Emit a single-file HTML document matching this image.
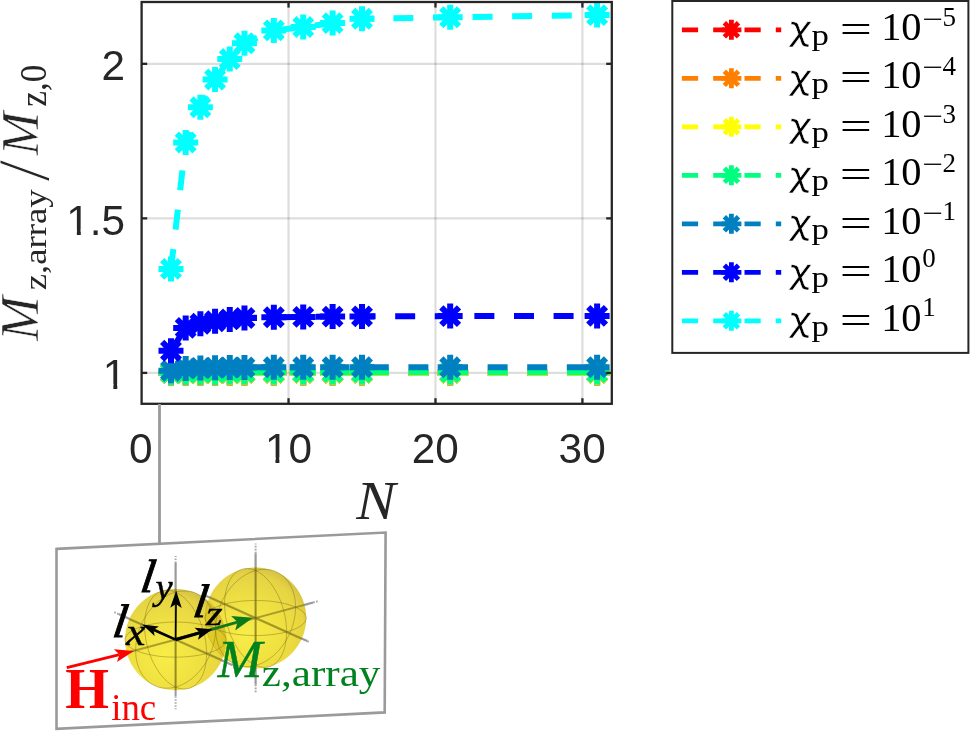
<!DOCTYPE html>
<html><head><meta charset="utf-8"><title>Magnetization ratio plot</title>
<style>html,body{margin:0;padding:0;background:#fff}svg{display:block}</style></head>
<body>
<svg width="970" height="731" viewBox="0 0 970 731">
<rect width="970" height="731" fill="#fff"/>
<g stroke="#000" stroke-opacity="0.135" stroke-width="2.2"><line x1="288.54" y1="2.0" x2="288.54" y2="403.8"/><line x1="435.47" y1="2.0" x2="435.47" y2="403.8"/><line x1="582.41" y1="2.0" x2="582.41" y2="403.8"/><line x1="141.6" y1="372.89" x2="611.8" y2="372.89"/><line x1="141.6" y1="218.35" x2="611.8" y2="218.35"/><line x1="141.6" y1="63.82" x2="611.8" y2="63.82"/></g>
<polyline points="170.99,372.89 185.68,372.89 200.38,372.89 215.07,372.89 229.76,372.89 244.46,372.89 273.84,372.89 303.23,372.89 332.62,372.89 362.01,372.89 450.17,372.89 597.11,372.89" fill="none" stroke="#ff0000" stroke-width="6" stroke-dasharray="20 19.6"/>
<path d="M158.49 372.89H183.49M170.99 360.39V385.39M162.15 364.05L179.83 381.73M162.15 381.73L179.83 364.05" stroke="#ff0000" stroke-width="6" fill="none"/>
<path d="M173.18 372.89H198.18M185.68 360.39V385.39M176.84 364.05L194.52 381.73M176.84 381.73L194.52 364.05" stroke="#ff0000" stroke-width="6" fill="none"/>
<path d="M187.88 372.89H212.88M200.38 360.39V385.39M191.54 364.05L209.21 381.73M191.54 381.73L209.21 364.05" stroke="#ff0000" stroke-width="6" fill="none"/>
<path d="M202.57 372.89H227.57M215.07 360.39V385.39M206.23 364.05L223.91 381.73M206.23 381.73L223.91 364.05" stroke="#ff0000" stroke-width="6" fill="none"/>
<path d="M217.26 372.89H242.26M229.76 360.39V385.39M220.92 364.05L238.60 381.73M220.92 381.73L238.60 364.05" stroke="#ff0000" stroke-width="6" fill="none"/>
<path d="M231.96 372.89H256.96M244.46 360.39V385.39M235.62 364.05L253.30 381.73M235.62 381.73L253.30 364.05" stroke="#ff0000" stroke-width="6" fill="none"/>
<path d="M261.34 372.89H286.34M273.84 360.39V385.39M265.00 364.05L282.68 381.73M265.00 381.73L282.68 364.05" stroke="#ff0000" stroke-width="6" fill="none"/>
<path d="M290.73 372.89H315.73M303.23 360.39V385.39M294.39 364.05L312.07 381.73M294.39 381.73L312.07 364.05" stroke="#ff0000" stroke-width="6" fill="none"/>
<path d="M320.12 372.89H345.12M332.62 360.39V385.39M323.78 364.05L341.46 381.73M323.78 381.73L341.46 364.05" stroke="#ff0000" stroke-width="6" fill="none"/>
<path d="M349.51 372.89H374.51M362.01 360.39V385.39M353.17 364.05L370.85 381.73M353.17 381.73L370.85 364.05" stroke="#ff0000" stroke-width="6" fill="none"/>
<path d="M437.67 372.89H462.67M450.17 360.39V385.39M441.33 364.05L459.01 381.73M441.33 381.73L459.01 364.05" stroke="#ff0000" stroke-width="6" fill="none"/>
<path d="M584.61 372.89H609.61M597.11 360.39V385.39M588.27 364.05L605.95 381.73M588.27 381.73L605.95 364.05" stroke="#ff0000" stroke-width="6" fill="none"/>
<polyline points="170.99,372.89 185.68,372.89 200.38,372.89 215.07,372.89 229.76,372.89 244.46,372.89 273.84,372.89 303.23,372.89 332.62,372.89 362.01,372.89 450.17,372.89 597.11,372.89" fill="none" stroke="#ff8000" stroke-width="6" stroke-dasharray="20 19.6"/>
<path d="M158.49 372.89H183.49M170.99 360.39V385.39M162.15 364.05L179.83 381.73M162.15 381.73L179.83 364.05" stroke="#ff8000" stroke-width="6" fill="none"/>
<path d="M173.18 372.89H198.18M185.68 360.39V385.39M176.84 364.05L194.52 381.73M176.84 381.73L194.52 364.05" stroke="#ff8000" stroke-width="6" fill="none"/>
<path d="M187.88 372.89H212.88M200.38 360.39V385.39M191.54 364.05L209.21 381.73M191.54 381.73L209.21 364.05" stroke="#ff8000" stroke-width="6" fill="none"/>
<path d="M202.57 372.89H227.57M215.07 360.39V385.39M206.23 364.05L223.91 381.73M206.23 381.73L223.91 364.05" stroke="#ff8000" stroke-width="6" fill="none"/>
<path d="M217.26 372.89H242.26M229.76 360.39V385.39M220.92 364.05L238.60 381.73M220.92 381.73L238.60 364.05" stroke="#ff8000" stroke-width="6" fill="none"/>
<path d="M231.96 372.89H256.96M244.46 360.39V385.39M235.62 364.05L253.30 381.73M235.62 381.73L253.30 364.05" stroke="#ff8000" stroke-width="6" fill="none"/>
<path d="M261.34 372.89H286.34M273.84 360.39V385.39M265.00 364.05L282.68 381.73M265.00 381.73L282.68 364.05" stroke="#ff8000" stroke-width="6" fill="none"/>
<path d="M290.73 372.89H315.73M303.23 360.39V385.39M294.39 364.05L312.07 381.73M294.39 381.73L312.07 364.05" stroke="#ff8000" stroke-width="6" fill="none"/>
<path d="M320.12 372.89H345.12M332.62 360.39V385.39M323.78 364.05L341.46 381.73M323.78 381.73L341.46 364.05" stroke="#ff8000" stroke-width="6" fill="none"/>
<path d="M349.51 372.89H374.51M362.01 360.39V385.39M353.17 364.05L370.85 381.73M353.17 381.73L370.85 364.05" stroke="#ff8000" stroke-width="6" fill="none"/>
<path d="M437.67 372.89H462.67M450.17 360.39V385.39M441.33 364.05L459.01 381.73M441.33 381.73L459.01 364.05" stroke="#ff8000" stroke-width="6" fill="none"/>
<path d="M584.61 372.89H609.61M597.11 360.39V385.39M588.27 364.05L605.95 381.73M588.27 381.73L605.95 364.05" stroke="#ff8000" stroke-width="6" fill="none"/>
<polyline points="170.99,372.87 185.68,372.85 200.38,372.84 215.07,372.84 229.76,372.84 244.46,372.84 273.84,372.84 303.23,372.84 332.62,372.84 362.01,372.84 450.17,372.84 597.11,372.84" fill="none" stroke="#ffff00" stroke-width="6" stroke-dasharray="20 19.6"/>
<path d="M158.49 372.87H183.49M170.99 360.37V385.37M162.15 364.03L179.83 381.71M162.15 381.71L179.83 364.03" stroke="#ffff00" stroke-width="6" fill="none"/>
<path d="M173.18 372.85H198.18M185.68 360.35V385.35M176.84 364.01L194.52 381.69M176.84 381.69L194.52 364.01" stroke="#ffff00" stroke-width="6" fill="none"/>
<path d="M187.88 372.84H212.88M200.38 360.34V385.34M191.54 364.00L209.21 381.68M191.54 381.68L209.21 364.00" stroke="#ffff00" stroke-width="6" fill="none"/>
<path d="M202.57 372.84H227.57M215.07 360.34V385.34M206.23 364.00L223.91 381.68M206.23 381.68L223.91 364.00" stroke="#ffff00" stroke-width="6" fill="none"/>
<path d="M217.26 372.84H242.26M229.76 360.34V385.34M220.92 364.00L238.60 381.68M220.92 381.68L238.60 364.00" stroke="#ffff00" stroke-width="6" fill="none"/>
<path d="M231.96 372.84H256.96M244.46 360.34V385.34M235.62 364.00L253.30 381.68M235.62 381.68L253.30 364.00" stroke="#ffff00" stroke-width="6" fill="none"/>
<path d="M261.34 372.84H286.34M273.84 360.34V385.34M265.00 364.00L282.68 381.68M265.00 381.68L282.68 364.00" stroke="#ffff00" stroke-width="6" fill="none"/>
<path d="M290.73 372.84H315.73M303.23 360.34V385.34M294.39 364.00L312.07 381.68M294.39 381.68L312.07 364.00" stroke="#ffff00" stroke-width="6" fill="none"/>
<path d="M320.12 372.84H345.12M332.62 360.34V385.34M323.78 364.00L341.46 381.67M323.78 381.67L341.46 364.00" stroke="#ffff00" stroke-width="6" fill="none"/>
<path d="M349.51 372.84H374.51M362.01 360.34V385.34M353.17 364.00L370.85 381.67M353.17 381.67L370.85 364.00" stroke="#ffff00" stroke-width="6" fill="none"/>
<path d="M437.67 372.84H462.67M450.17 360.34V385.34M441.33 364.00L459.01 381.67M441.33 381.67L459.01 364.00" stroke="#ffff00" stroke-width="6" fill="none"/>
<path d="M584.61 372.84H609.61M597.11 360.34V385.34M588.27 364.00L605.95 381.67M588.27 381.67L605.95 364.00" stroke="#ffff00" stroke-width="6" fill="none"/>
<polyline points="170.99,372.67 185.68,372.44 200.38,372.40 215.07,372.38 229.76,372.36 244.46,372.34 273.84,372.34 303.23,372.33 332.62,372.33 362.01,372.33 450.17,372.32 597.11,372.32" fill="none" stroke="#00ff80" stroke-width="6" stroke-dasharray="20 19.6"/>
<path d="M158.49 372.67H183.49M170.99 360.17V385.17M162.15 363.83L179.83 381.51M162.15 381.51L179.83 363.83" stroke="#00ff80" stroke-width="6" fill="none"/>
<path d="M173.18 372.44H198.18M185.68 359.94V384.94M176.84 363.60L194.52 381.28M176.84 381.28L194.52 363.60" stroke="#00ff80" stroke-width="6" fill="none"/>
<path d="M187.88 372.40H212.88M200.38 359.90V384.90M191.54 363.56L209.21 381.24M191.54 381.24L209.21 363.56" stroke="#00ff80" stroke-width="6" fill="none"/>
<path d="M202.57 372.38H227.57M215.07 359.88V384.88M206.23 363.54L223.91 381.22M206.23 381.22L223.91 363.54" stroke="#00ff80" stroke-width="6" fill="none"/>
<path d="M217.26 372.36H242.26M229.76 359.86V384.86M220.92 363.52L238.60 381.20M220.92 381.20L238.60 363.52" stroke="#00ff80" stroke-width="6" fill="none"/>
<path d="M231.96 372.34H256.96M244.46 359.84V384.84M235.62 363.50L253.30 381.18M235.62 381.18L253.30 363.50" stroke="#00ff80" stroke-width="6" fill="none"/>
<path d="M261.34 372.34H286.34M273.84 359.84V384.84M265.00 363.50L282.68 381.17M265.00 381.17L282.68 363.50" stroke="#00ff80" stroke-width="6" fill="none"/>
<path d="M290.73 372.33H315.73M303.23 359.83V384.83M294.39 363.49L312.07 381.17M294.39 381.17L312.07 363.49" stroke="#00ff80" stroke-width="6" fill="none"/>
<path d="M320.12 372.33H345.12M332.62 359.83V384.83M323.78 363.49L341.46 381.17M323.78 381.17L341.46 363.49" stroke="#00ff80" stroke-width="6" fill="none"/>
<path d="M349.51 372.33H374.51M362.01 359.83V384.83M353.17 363.49L370.85 381.17M353.17 381.17L370.85 363.49" stroke="#00ff80" stroke-width="6" fill="none"/>
<path d="M437.67 372.32H462.67M450.17 359.82V384.82M441.33 363.49L459.01 381.16M441.33 381.16L459.01 363.49" stroke="#00ff80" stroke-width="6" fill="none"/>
<path d="M584.61 372.32H609.61M597.11 359.82V384.82M588.27 363.48L605.95 381.16M588.27 381.16L605.95 363.48" stroke="#00ff80" stroke-width="6" fill="none"/>
<polyline points="170.99,370.67 185.68,368.39 200.38,367.98 215.07,367.73 229.76,367.54 244.46,367.40 273.84,367.32 303.23,367.29 332.62,367.26 362.01,367.24 450.17,367.21 597.11,367.19" fill="none" stroke="#0080c0" stroke-width="6" stroke-dasharray="20 19.6"/>
<path d="M158.49 370.67H183.49M170.99 358.17V383.17M162.15 361.83L179.83 379.51M162.15 379.51L179.83 361.83" stroke="#0080c0" stroke-width="6" fill="none"/>
<path d="M173.18 368.39H198.18M185.68 355.89V380.89M176.84 359.55L194.52 377.23M176.84 377.23L194.52 359.55" stroke="#0080c0" stroke-width="6" fill="none"/>
<path d="M187.88 367.98H212.88M200.38 355.48V380.48M191.54 359.14L209.21 376.82M191.54 376.82L209.21 359.14" stroke="#0080c0" stroke-width="6" fill="none"/>
<path d="M202.57 367.73H227.57M215.07 355.23V380.23M206.23 358.89L223.91 376.57M206.23 376.57L223.91 358.89" stroke="#0080c0" stroke-width="6" fill="none"/>
<path d="M217.26 367.54H242.26M229.76 355.04V380.04M220.92 358.70L238.60 376.38M220.92 376.38L238.60 358.70" stroke="#0080c0" stroke-width="6" fill="none"/>
<path d="M231.96 367.40H256.96M244.46 354.90V379.90M235.62 358.56L253.30 376.24M235.62 376.24L253.30 358.56" stroke="#0080c0" stroke-width="6" fill="none"/>
<path d="M261.34 367.32H286.34M273.84 354.82V379.82M265.00 358.48L282.68 376.16M265.00 376.16L282.68 358.48" stroke="#0080c0" stroke-width="6" fill="none"/>
<path d="M290.73 367.29H315.73M303.23 354.79V379.79M294.39 358.45L312.07 376.13M294.39 376.13L312.07 358.45" stroke="#0080c0" stroke-width="6" fill="none"/>
<path d="M320.12 367.26H345.12M332.62 354.76V379.76M323.78 358.42L341.46 376.10M323.78 376.10L341.46 358.42" stroke="#0080c0" stroke-width="6" fill="none"/>
<path d="M349.51 367.24H374.51M362.01 354.74V379.74M353.17 358.40L370.85 376.08M353.17 376.08L370.85 358.40" stroke="#0080c0" stroke-width="6" fill="none"/>
<path d="M437.67 367.21H462.67M450.17 354.71V379.71M441.33 358.37L459.01 376.05M441.33 376.05L459.01 358.37" stroke="#0080c0" stroke-width="6" fill="none"/>
<path d="M584.61 367.19H609.61M597.11 354.69V379.69M588.27 358.35L605.95 376.03M588.27 376.03L605.95 358.35" stroke="#0080c0" stroke-width="6" fill="none"/>
<polyline points="170.99,350.70 185.68,327.90 200.38,323.80 215.07,321.30 229.76,319.40 244.46,318.00 273.84,317.20 303.23,316.90 332.62,316.60 362.01,316.40 450.17,316.10 597.11,315.90" fill="none" stroke="#0000ff" stroke-width="6" stroke-dasharray="20 19.6"/>
<path d="M158.49 350.70H183.49M170.99 338.20V363.20M162.15 341.86L179.83 359.54M162.15 359.54L179.83 341.86" stroke="#0000ff" stroke-width="6" fill="none"/>
<path d="M173.18 327.90H198.18M185.68 315.40V340.40M176.84 319.06L194.52 336.74M176.84 336.74L194.52 319.06" stroke="#0000ff" stroke-width="6" fill="none"/>
<path d="M187.88 323.80H212.88M200.38 311.30V336.30M191.54 314.96L209.21 332.64M191.54 332.64L209.21 314.96" stroke="#0000ff" stroke-width="6" fill="none"/>
<path d="M202.57 321.30H227.57M215.07 308.80V333.80M206.23 312.46L223.91 330.14M206.23 330.14L223.91 312.46" stroke="#0000ff" stroke-width="6" fill="none"/>
<path d="M217.26 319.40H242.26M229.76 306.90V331.90M220.92 310.56L238.60 328.24M220.92 328.24L238.60 310.56" stroke="#0000ff" stroke-width="6" fill="none"/>
<path d="M231.96 318.00H256.96M244.46 305.50V330.50M235.62 309.16L253.30 326.84M235.62 326.84L253.30 309.16" stroke="#0000ff" stroke-width="6" fill="none"/>
<path d="M261.34 317.20H286.34M273.84 304.70V329.70M265.00 308.36L282.68 326.04M265.00 326.04L282.68 308.36" stroke="#0000ff" stroke-width="6" fill="none"/>
<path d="M290.73 316.90H315.73M303.23 304.40V329.40M294.39 308.06L312.07 325.74M294.39 325.74L312.07 308.06" stroke="#0000ff" stroke-width="6" fill="none"/>
<path d="M320.12 316.60H345.12M332.62 304.10V329.10M323.78 307.76L341.46 325.44M323.78 325.44L341.46 307.76" stroke="#0000ff" stroke-width="6" fill="none"/>
<path d="M349.51 316.40H374.51M362.01 303.90V328.90M353.17 307.56L370.85 325.24M353.17 325.24L370.85 307.56" stroke="#0000ff" stroke-width="6" fill="none"/>
<path d="M437.67 316.10H462.67M450.17 303.60V328.60M441.33 307.26L459.01 324.94M441.33 324.94L459.01 307.26" stroke="#0000ff" stroke-width="6" fill="none"/>
<path d="M584.61 315.90H609.61M597.11 303.40V328.40M588.27 307.06L605.95 324.74M588.27 324.74L605.95 307.06" stroke="#0000ff" stroke-width="6" fill="none"/>
<polyline points="170.99,268.90 185.68,142.50 200.38,107.20 215.07,79.50 229.76,59.00 244.46,43.20 273.84,30.40 303.23,27.00 332.62,23.10 362.01,18.80 450.17,17.30 597.11,15.10" fill="none" stroke="#00ffff" stroke-width="6" stroke-dasharray="20 19.6"/>
<path d="M158.49 268.90H183.49M170.99 256.40V281.40M162.15 260.06L179.83 277.74M162.15 277.74L179.83 260.06" stroke="#00ffff" stroke-width="6" fill="none"/>
<path d="M173.18 142.50H198.18M185.68 130.00V155.00M176.84 133.66L194.52 151.34M176.84 151.34L194.52 133.66" stroke="#00ffff" stroke-width="6" fill="none"/>
<path d="M187.88 107.20H212.88M200.38 94.70V119.70M191.54 98.36L209.21 116.04M191.54 116.04L209.21 98.36" stroke="#00ffff" stroke-width="6" fill="none"/>
<path d="M202.57 79.50H227.57M215.07 67.00V92.00M206.23 70.66L223.91 88.34M206.23 88.34L223.91 70.66" stroke="#00ffff" stroke-width="6" fill="none"/>
<path d="M217.26 59.00H242.26M229.76 46.50V71.50M220.92 50.16L238.60 67.84M220.92 67.84L238.60 50.16" stroke="#00ffff" stroke-width="6" fill="none"/>
<path d="M231.96 43.20H256.96M244.46 30.70V55.70M235.62 34.36L253.30 52.04M235.62 52.04L253.30 34.36" stroke="#00ffff" stroke-width="6" fill="none"/>
<path d="M261.34 30.40H286.34M273.84 17.90V42.90M265.00 21.56L282.68 39.24M265.00 39.24L282.68 21.56" stroke="#00ffff" stroke-width="6" fill="none"/>
<path d="M290.73 27.00H315.73M303.23 14.50V39.50M294.39 18.16L312.07 35.84M294.39 35.84L312.07 18.16" stroke="#00ffff" stroke-width="6" fill="none"/>
<path d="M320.12 23.10H345.12M332.62 10.60V35.60M323.78 14.26L341.46 31.94M323.78 31.94L341.46 14.26" stroke="#00ffff" stroke-width="6" fill="none"/>
<path d="M349.51 18.80H374.51M362.01 6.30V31.30M353.17 9.96L370.85 27.64M353.17 27.64L370.85 9.96" stroke="#00ffff" stroke-width="6" fill="none"/>
<path d="M437.67 17.30H462.67M450.17 4.80V29.80M441.33 8.46L459.01 26.14M441.33 26.14L459.01 8.46" stroke="#00ffff" stroke-width="6" fill="none"/>
<path d="M584.61 15.10H609.61M597.11 2.60V27.60M588.27 6.26L605.95 23.94M588.27 23.94L605.95 6.26" stroke="#00ffff" stroke-width="6" fill="none"/>
<g stroke="#262626" stroke-width="2.3"><line x1="288.54" y1="403.8" x2="288.54" y2="398.2"/><line x1="288.54" y1="2.0" x2="288.54" y2="7.6"/><line x1="435.47" y1="403.8" x2="435.47" y2="398.2"/><line x1="435.47" y1="2.0" x2="435.47" y2="7.6"/><line x1="582.41" y1="403.8" x2="582.41" y2="398.2"/><line x1="582.41" y1="2.0" x2="582.41" y2="7.6"/><line x1="141.6" y1="372.89" x2="147.2" y2="372.89"/><line x1="611.8" y1="372.89" x2="606.1999999999999" y2="372.89"/><line x1="141.6" y1="218.35" x2="147.2" y2="218.35"/><line x1="611.8" y1="218.35" x2="606.1999999999999" y2="218.35"/><line x1="141.6" y1="63.82" x2="147.2" y2="63.82"/><line x1="611.8" y1="63.82" x2="606.1999999999999" y2="63.82"/><rect x="141.6" y="2.0" width="470.19999999999993" height="401.8" fill="none"/></g>
<g font-family="'Liberation Sans', sans-serif" font-size="42.3" fill="#262626">
<text x="128.98" y="462.60">0</text>
<clipPath id="tc1"><path d="M261.90 417.60H354.90V457.24H261.90ZM275.44 456.24H279.38V464.60H275.44ZM287.93 456.24H354.90V466.60H287.93Z"/></clipPath><text x="264.90" y="462.60" clip-path="url(#tc1)">10</text>
<text x="411.63" y="462.60">20</text>
<text x="558.62" y="462.60">30</text>
<clipPath id="tc4"><path d="M99.80 344.30H192.80V383.94H99.80ZM113.34 382.94H117.28V391.30H113.34ZM125.83 382.94H192.80V393.30H125.83Z"/></clipPath><text x="102.80" y="389.30" clip-path="url(#tc4)">1</text>
<clipPath id="tc5"><path d="M63.30 189.70H156.30V229.34H63.30ZM76.84 228.34H80.78V236.70H76.84ZM89.33 228.34H156.30V238.70H89.33Z"/></clipPath><text x="66.30" y="234.70" clip-path="url(#tc5)">1.5</text>
<text x="101.43" y="80.10">2</text>
</g>
<text transform="translate(356.20,519.00) scale(1.087,1)" font-family="'Liberation Serif', serif" font-style="italic" font-weight="normal" font-size="54.31" fill="#262626">N</text>
<g transform="rotate(-90)">
<text transform="translate(-340.77,38.10) scale(0.988,1)" font-family="'Liberation Serif', serif" font-style="italic" font-weight="normal" font-size="54.00" fill="#262626" stroke="#fff" stroke-width="0.5">M</text>
<text transform="translate(-290.22,45.59) scale(1.166,1)" font-family="'Liberation Serif', serif" font-style="normal" font-weight="normal" font-size="31.47" fill="#262626">z,array</text>
<text transform="translate(-181.40,48.55) scale(1.049,1)" font-family="'Liberation Serif', serif" font-style="normal" font-weight="normal" font-size="74.89" fill="#262626" stroke="#fff" stroke-width="1.0">/</text>
<text transform="translate(-155.18,38.00) scale(0.967,1)" font-family="'Liberation Serif', serif" font-style="italic" font-weight="normal" font-size="53.69" fill="#262626" stroke="#fff" stroke-width="0.5">M</text>
<text transform="translate(-106.68,45.74) scale(0.951,1)" font-family="'Liberation Serif', serif" font-style="normal" font-weight="normal" font-size="37.06" fill="#262626">z,0</text>
</g>
<rect x="672.3" y="1.0" width="296.1" height="351.9" fill="#fff" stroke="#262626" stroke-width="2"/>
<line x1="681.9" y1="29.8" x2="781.2" y2="29.8" stroke="#ff0000" stroke-width="4.8" stroke-dasharray="16.2 15.1"/>
<path d="M721.40 29.80H741.40M731.40 19.80V39.80M724.33 22.73L738.47 36.87M724.33 36.87L738.47 22.73" stroke="#ff0000" stroke-width="4.8" fill="none"/>
<text transform="translate(789.58,40.02) scale(1.167,1) skewX(6)" font-family="'DejaVu Sans', sans-serif" font-style="italic" font-weight="normal" font-size="33.25" fill="#000" stroke="#fff" stroke-width="0.5">χ</text>
<text transform="translate(811.38,44.92) scale(1.202,1)" font-family="'Liberation Serif', serif" font-style="normal" font-weight="normal" font-size="28.97" fill="#000">p</text>
<text transform="translate(839.8,41.80) scale(1.19,0.78)" font-family="'Liberation Serif', serif" font-size="48" fill="#000">=</text>
<text transform="translate(881.16,39.71) scale(1.034,1)" font-family="'Liberation Serif', serif" font-style="normal" font-weight="normal" font-size="39.11" fill="#000">10</text>
<text transform="translate(922.2,27.60) scale(1.36,1)" font-family="'Liberation Serif', serif" font-size="27.0" fill="#000">−</text>
<text transform="translate(942.5,26.00) scale(1.0,1)" font-family="'Liberation Serif', serif" font-size="27.0" fill="#000">5</text>
<line x1="681.9" y1="78.3" x2="781.2" y2="78.3" stroke="#ff8000" stroke-width="4.8" stroke-dasharray="16.2 15.1"/>
<path d="M721.40 78.30H741.40M731.40 68.30V88.30M724.33 71.23L738.47 85.37M724.33 85.37L738.47 71.23" stroke="#ff8000" stroke-width="4.8" fill="none"/>
<text transform="translate(789.58,88.52) scale(1.167,1) skewX(6)" font-family="'DejaVu Sans', sans-serif" font-style="italic" font-weight="normal" font-size="33.25" fill="#000" stroke="#fff" stroke-width="0.5">χ</text>
<text transform="translate(811.38,93.42) scale(1.202,1)" font-family="'Liberation Serif', serif" font-style="normal" font-weight="normal" font-size="28.97" fill="#000">p</text>
<text transform="translate(839.8,90.30) scale(1.19,0.78)" font-family="'Liberation Serif', serif" font-size="48" fill="#000">=</text>
<text transform="translate(881.16,88.21) scale(1.034,1)" font-family="'Liberation Serif', serif" font-style="normal" font-weight="normal" font-size="39.11" fill="#000">10</text>
<text transform="translate(922.2,76.10) scale(1.36,1)" font-family="'Liberation Serif', serif" font-size="27.0" fill="#000">−</text>
<text transform="translate(942.5,74.50) scale(1.0,1)" font-family="'Liberation Serif', serif" font-size="27.0" fill="#000">4</text>
<line x1="681.9" y1="126.8" x2="781.2" y2="126.8" stroke="#ffff00" stroke-width="4.8" stroke-dasharray="16.2 15.1"/>
<path d="M721.40 126.80H741.40M731.40 116.80V136.80M724.33 119.73L738.47 133.87M724.33 133.87L738.47 119.73" stroke="#ffff00" stroke-width="4.8" fill="none"/>
<text transform="translate(789.58,137.02) scale(1.167,1) skewX(6)" font-family="'DejaVu Sans', sans-serif" font-style="italic" font-weight="normal" font-size="33.25" fill="#000" stroke="#fff" stroke-width="0.5">χ</text>
<text transform="translate(811.38,141.92) scale(1.202,1)" font-family="'Liberation Serif', serif" font-style="normal" font-weight="normal" font-size="28.97" fill="#000">p</text>
<text transform="translate(839.8,138.80) scale(1.19,0.78)" font-family="'Liberation Serif', serif" font-size="48" fill="#000">=</text>
<text transform="translate(881.16,136.71) scale(1.034,1)" font-family="'Liberation Serif', serif" font-style="normal" font-weight="normal" font-size="39.11" fill="#000">10</text>
<text transform="translate(922.2,124.60) scale(1.36,1)" font-family="'Liberation Serif', serif" font-size="27.0" fill="#000">−</text>
<text transform="translate(942.5,123.00) scale(1.0,1)" font-family="'Liberation Serif', serif" font-size="27.0" fill="#000">3</text>
<line x1="681.9" y1="175.3" x2="781.2" y2="175.3" stroke="#00ff80" stroke-width="4.8" stroke-dasharray="16.2 15.1"/>
<path d="M721.40 175.30H741.40M731.40 165.30V185.30M724.33 168.23L738.47 182.37M724.33 182.37L738.47 168.23" stroke="#00ff80" stroke-width="4.8" fill="none"/>
<text transform="translate(789.58,185.52) scale(1.167,1) skewX(6)" font-family="'DejaVu Sans', sans-serif" font-style="italic" font-weight="normal" font-size="33.25" fill="#000" stroke="#fff" stroke-width="0.5">χ</text>
<text transform="translate(811.38,190.42) scale(1.202,1)" font-family="'Liberation Serif', serif" font-style="normal" font-weight="normal" font-size="28.97" fill="#000">p</text>
<text transform="translate(839.8,187.30) scale(1.19,0.78)" font-family="'Liberation Serif', serif" font-size="48" fill="#000">=</text>
<text transform="translate(881.16,185.21) scale(1.034,1)" font-family="'Liberation Serif', serif" font-style="normal" font-weight="normal" font-size="39.11" fill="#000">10</text>
<text transform="translate(922.2,173.10) scale(1.36,1)" font-family="'Liberation Serif', serif" font-size="27.0" fill="#000">−</text>
<text transform="translate(942.5,171.50) scale(1.0,1)" font-family="'Liberation Serif', serif" font-size="27.0" fill="#000">2</text>
<line x1="681.9" y1="223.8" x2="781.2" y2="223.8" stroke="#0080c0" stroke-width="4.8" stroke-dasharray="16.2 15.1"/>
<path d="M721.40 223.80H741.40M731.40 213.80V233.80M724.33 216.73L738.47 230.87M724.33 230.87L738.47 216.73" stroke="#0080c0" stroke-width="4.8" fill="none"/>
<text transform="translate(789.58,234.02) scale(1.167,1) skewX(6)" font-family="'DejaVu Sans', sans-serif" font-style="italic" font-weight="normal" font-size="33.25" fill="#000" stroke="#fff" stroke-width="0.5">χ</text>
<text transform="translate(811.38,238.92) scale(1.202,1)" font-family="'Liberation Serif', serif" font-style="normal" font-weight="normal" font-size="28.97" fill="#000">p</text>
<text transform="translate(839.8,235.80) scale(1.19,0.78)" font-family="'Liberation Serif', serif" font-size="48" fill="#000">=</text>
<text transform="translate(881.16,233.71) scale(1.034,1)" font-family="'Liberation Serif', serif" font-style="normal" font-weight="normal" font-size="39.11" fill="#000">10</text>
<text transform="translate(922.2,221.60) scale(1.36,1)" font-family="'Liberation Serif', serif" font-size="27.0" fill="#000">−</text>
<text transform="translate(942.5,220.00) scale(1.0,1)" font-family="'Liberation Serif', serif" font-size="27.0" fill="#000">1</text>
<line x1="681.9" y1="272.3" x2="781.2" y2="272.3" stroke="#0000ff" stroke-width="4.8" stroke-dasharray="16.2 15.1"/>
<path d="M721.40 272.30H741.40M731.40 262.30V282.30M724.33 265.23L738.47 279.37M724.33 279.37L738.47 265.23" stroke="#0000ff" stroke-width="4.8" fill="none"/>
<text transform="translate(789.58,282.52) scale(1.167,1) skewX(6)" font-family="'DejaVu Sans', sans-serif" font-style="italic" font-weight="normal" font-size="33.25" fill="#000" stroke="#fff" stroke-width="0.5">χ</text>
<text transform="translate(811.38,287.42) scale(1.202,1)" font-family="'Liberation Serif', serif" font-style="normal" font-weight="normal" font-size="28.97" fill="#000">p</text>
<text transform="translate(839.8,284.30) scale(1.19,0.78)" font-family="'Liberation Serif', serif" font-size="48" fill="#000">=</text>
<text transform="translate(881.16,282.21) scale(1.034,1)" font-family="'Liberation Serif', serif" font-style="normal" font-weight="normal" font-size="39.11" fill="#000">10</text>
<text transform="translate(922.2,267.40) scale(1.0,1)" font-family="'Liberation Serif', serif" font-size="27.0" fill="#000">0</text>
<line x1="681.9" y1="320.8" x2="781.2" y2="320.8" stroke="#00ffff" stroke-width="4.8" stroke-dasharray="16.2 15.1"/>
<path d="M721.40 320.80H741.40M731.40 310.80V330.80M724.33 313.73L738.47 327.87M724.33 327.87L738.47 313.73" stroke="#00ffff" stroke-width="4.8" fill="none"/>
<text transform="translate(789.58,331.02) scale(1.167,1) skewX(6)" font-family="'DejaVu Sans', sans-serif" font-style="italic" font-weight="normal" font-size="33.25" fill="#000" stroke="#fff" stroke-width="0.5">χ</text>
<text transform="translate(811.38,335.92) scale(1.202,1)" font-family="'Liberation Serif', serif" font-style="normal" font-weight="normal" font-size="28.97" fill="#000">p</text>
<text transform="translate(839.8,332.80) scale(1.19,0.78)" font-family="'Liberation Serif', serif" font-size="48" fill="#000">=</text>
<text transform="translate(881.16,330.71) scale(1.034,1)" font-family="'Liberation Serif', serif" font-style="normal" font-weight="normal" font-size="39.11" fill="#000">10</text>
<text transform="translate(922.2,315.90) scale(1.0,1)" font-family="'Liberation Serif', serif" font-size="27.0" fill="#000">1</text>
<path d="M159.5 404V546" stroke="#9a9a9a" stroke-width="2.8" fill="none"/>
<path d="M56.5 548.9L385.6 532.5L384.7 712.4L56.5 728.8Z" stroke="#9a9a9a" stroke-width="2.6" fill="#fff"/>
<defs><radialGradient id="sg" cx="0.42" cy="0.62" r="0.62" fx="0.40" fy="0.66"><stop offset="0" stop-color="#f8ec3e"/><stop offset="0.55" stop-color="#efdf36"/><stop offset="0.9" stop-color="#e6d234"/><stop offset="1" stop-color="#d8c234"/></radialGradient><linearGradient id="tg" x1="0" y1="0" x2="0" y2="1"><stop offset="0" stop-color="#d4c870" stop-opacity="0.12"/><stop offset="0.5" stop-color="#cfc78a" stop-opacity="0"/></linearGradient></defs>
<path d="M175.6 590.0L175.6 563.0" stroke="#9a9a9a" stroke-width="2.2" fill="none" stroke-opacity="1"/>
<path d="M175.6 563.0L175.6 556.0" stroke="#a8a8a8" stroke-width="2.0" fill="none" stroke-dasharray="1.6 1.4" stroke-opacity="1"/>
<path d="M175.6 689.2L175.6 696.2" stroke="#9a9a9a" stroke-width="2.0" fill="none" stroke-opacity="1"/>
<path d="M175.6 696.2L175.6 709.2" stroke="#a8a8a8" stroke-width="2.0" fill="none" stroke-dasharray="1.6 1.4" stroke-opacity="1"/>
<path d="M130.3 619.3L118.5 614.0" stroke="#9a9a9a" stroke-width="2.2" fill="none" stroke-opacity="1"/>
<path d="M118.5 614.0L113.9 612.0" stroke="#a8a8a8" stroke-width="2.0" fill="none" stroke-dasharray="1.6 1.4" stroke-opacity="1"/>
<path d="M220.9 659.9L232.7 665.2" stroke="#9a9a9a" stroke-width="2.2" fill="none" stroke-opacity="1"/>
<path d="M134.5 650.7L132.5 651.2" stroke="#9a9a9a" stroke-width="2.0" fill="none" stroke-opacity="1"/>
<path d="M255.6 568.4L255.6 553.4" stroke="#9a9a9a" stroke-width="2.2" fill="none" stroke-opacity="1"/>
<path d="M255.6 553.4L255.6 543.4" stroke="#a8a8a8" stroke-width="2.0" fill="none" stroke-dasharray="1.6 1.4" stroke-opacity="1"/>
<path d="M255.6 667.6L255.6 684.6" stroke="#9a9a9a" stroke-width="2.2" fill="none" stroke-opacity="1"/>
<path d="M255.6 684.6L255.6 692.6" stroke="#a8a8a8" stroke-width="2.0" fill="none" stroke-dasharray="1.6 1.4" stroke-opacity="1"/>
<path d="M210.3 597.7L203.9 594.9" stroke="#9a9a9a" stroke-width="2.2" fill="none" stroke-opacity="1"/>
<path d="M300.9 638.3L307.3 641.1" stroke="#9a9a9a" stroke-width="2.2" fill="none" stroke-opacity="1"/>
<path d="M307.3 641.1L310.0 642.3" stroke="#a8a8a8" stroke-width="2.0" fill="none" stroke-dasharray="1.6 1.4" stroke-opacity="1"/>
<path d="M303.5 605.1L313.2 602.5" stroke="#9a9a9a" stroke-width="2.2" fill="none" stroke-opacity="1"/>
<path d="M313.2 602.5L318.0 601.2" stroke="#a8a8a8" stroke-width="2.0" fill="none" stroke-dasharray="1.6 1.4" stroke-opacity="1"/>
<circle cx="255.6" cy="618.0" r="50.6" fill="url(#sg)" fill-opacity="0.95"/>
<circle cx="255.6" cy="618.0" r="50.6" fill="url(#tg)"/>
<circle cx="175.6" cy="639.6" r="50.6" fill="url(#sg)" fill-opacity="0.95"/>
<circle cx="175.6" cy="639.6" r="50.6" fill="url(#tg)"/>
<clipPath id="lc"><circle cx="175.6" cy="639.6" r="50.6"/></clipPath>
<circle cx="255.6" cy="618.0" r="50.6" fill="#c8a800" fill-opacity="0.28" stroke="#b8a020" stroke-opacity="0.5" stroke-width="0.8" clip-path="url(#lc)"/>
<path d="M224.6 604.1L228.2 603.2L232.0 602.5L236.0 601.8L240.1 601.3L244.4 600.9L248.7 600.6L253.1 600.5L257.5 600.5L261.9 600.6L266.3 600.8L270.6 601.2L274.7 601.7L278.7 602.4L282.6 603.1L286.2 604.0L289.6 605.0L292.7 606.1L295.6 607.2L298.1 608.5L300.4 609.8L302.2 611.2L303.8 612.6L304.9 614.1L305.7 615.6L306.1 617.1L306.2 618.7L305.8 620.2L305.1 621.7L303.9 623.2L302.4 624.6L300.6 626.0L298.4 627.4L295.9 628.6L293.1 629.8L290.0 630.9L286.6 631.9L283.0 632.8L279.2 633.5L275.2 634.2L271.1 634.7L266.8 635.1L262.5 635.4L258.1 635.5L253.7 635.5L249.3 635.4L244.9 635.2L240.6 634.8L236.5 634.3L232.5 633.6L228.6 632.9L225.0 632.0L221.6 631.0L218.5 629.9L215.6 628.8L213.1 627.5L210.8 626.2L209.0 624.8L207.4 623.4L206.3 621.9L205.5 620.4L205.1 618.9L205.0 617.3L205.4 615.8L206.1 614.3L207.3 612.8L208.8 611.4L210.6 610.0L212.8 608.6L215.3 607.4L218.1 606.2L221.2 605.1L224.6 604.1" stroke="#6e6418" stroke-width="0.8" stroke-opacity="0.5" fill="none"/>
<path d="M224.6 604.1L224.7 600.0L225.1 596.1L225.6 592.3L226.5 588.7L227.5 585.4L228.7 582.3L230.2 579.4L231.8 576.9L233.7 574.6L235.7 572.7L237.8 571.2L240.1 570.0L242.5 569.1L245.0 568.7L247.6 568.6L250.2 568.9L252.9 569.5L255.6 570.5L258.3 571.9L261.0 573.7L263.6 575.7L266.2 578.1L268.7 580.9L271.1 583.8L273.4 587.1L275.5 590.6L277.5 594.3L279.4 598.1L281.0 602.1L282.5 606.3L283.7 610.5L284.7 614.8L285.6 619.1L286.1 623.4L286.5 627.7L286.6 631.9L286.5 636.0L286.1 639.9L285.6 643.7L284.7 647.3L283.7 650.6L282.5 653.7L281.0 656.6L279.4 659.1L277.5 661.4L275.5 663.3L273.4 664.8L271.1 666.0L268.7 666.9L266.2 667.3L263.6 667.4L261.0 667.1L258.3 666.5L255.6 665.5L252.9 664.1L250.2 662.3L247.6 660.3L245.0 657.9L242.5 655.1L240.1 652.2L237.8 648.9L235.7 645.4L233.7 641.7L231.8 637.9L230.2 633.9L228.7 629.7L227.5 625.5L226.5 621.2L225.6 616.9L225.1 612.6L224.7 608.3L224.6 604.1" stroke="#6e6418" stroke-width="0.8" stroke-opacity="0.5" fill="none"/>
<path d="M295.6 607.2L295.4 603.1L295.0 599.2L294.2 595.3L293.2 591.7L291.8 588.2L290.2 585.0L288.4 582.0L286.2 579.3L283.9 576.8L281.3 574.7L278.5 573.0L275.6 571.5L272.5 570.4L269.3 569.7L265.9 569.4L262.5 569.4L259.1 569.8L255.6 570.5L252.1 571.7L248.7 573.1L245.3 574.9L241.9 577.1L238.7 579.5L235.6 582.3L232.7 585.3L229.9 588.6L227.3 592.1L225.0 595.7L222.8 599.6L221.0 603.6L219.4 607.7L218.0 611.9L217.0 616.1L216.2 620.4L215.8 624.6L215.6 628.8L215.8 632.9L216.2 636.8L217.0 640.7L218.0 644.3L219.4 647.8L221.0 651.0L222.8 654.0L225.0 656.7L227.3 659.2L229.9 661.3L232.7 663.0L235.6 664.5L238.7 665.6L241.9 666.3L245.3 666.6L248.7 666.6L252.1 666.2L255.6 665.5L259.1 664.3L262.5 662.9L265.9 661.1L269.3 658.9L272.5 656.5L275.6 653.7L278.5 650.7L281.3 647.4L283.9 643.9L286.2 640.3L288.4 636.4L290.2 632.4L291.8 628.3L293.2 624.1L294.2 619.9L295.0 615.6L295.4 611.4L295.6 607.2" stroke="#6e6418" stroke-width="0.8" stroke-opacity="0.5" fill="none"/>
<path d="M255.6 668.6L255.6 567.4" stroke="#6e6418" stroke-width="2.0" fill="none" stroke-opacity="0.7"/>
<path d="M301.8 638.7L209.4 597.3" stroke="#6e6418" stroke-width="2.2" fill="none" stroke-opacity="0.6"/>
<path d="M206.7 631.1L304.5 604.9" stroke="#6e6418" stroke-width="2.0" fill="none" stroke-opacity="0.55"/>
<path d="M144.6 625.7L148.2 624.8L152.0 624.1L156.0 623.4L160.1 622.9L164.4 622.5L168.7 622.2L173.1 622.1L177.5 622.1L181.9 622.2L186.3 622.4L190.6 622.8L194.7 623.3L198.7 624.0L202.6 624.7L206.2 625.6L209.6 626.6L212.7 627.7L215.6 628.8L218.1 630.1L220.4 631.4L222.2 632.8L223.8 634.2L224.9 635.7L225.7 637.2L226.1 638.7L226.2 640.3L225.8 641.8L225.1 643.3L223.9 644.8L222.4 646.2L220.6 647.6L218.4 649.0L215.9 650.2L213.1 651.4L210.0 652.5L206.6 653.5L203.0 654.4L199.2 655.1L195.2 655.8L191.1 656.3L186.8 656.7L182.5 657.0L178.1 657.1L173.7 657.1L169.3 657.0L164.9 656.8L160.6 656.4L156.5 655.9L152.5 655.2L148.6 654.5L145.0 653.6L141.6 652.6L138.5 651.5L135.6 650.4L133.1 649.1L130.8 647.8L129.0 646.4L127.4 645.0L126.3 643.5L125.5 642.0L125.1 640.5L125.0 638.9L125.4 637.4L126.1 635.9L127.3 634.4L128.8 633.0L130.6 631.6L132.8 630.2L135.3 629.0L138.1 627.8L141.2 626.7L144.6 625.7" stroke="#6e6418" stroke-width="0.8" stroke-opacity="0.5" fill="none"/>
<path d="M144.6 625.7L144.7 621.6L145.1 617.7L145.6 613.9L146.5 610.3L147.5 607.0L148.7 603.9L150.2 601.0L151.8 598.5L153.7 596.2L155.7 594.3L157.8 592.8L160.1 591.6L162.5 590.7L165.0 590.3L167.6 590.2L170.2 590.5L172.9 591.1L175.6 592.1L178.3 593.5L181.0 595.3L183.6 597.3L186.2 599.7L188.7 602.5L191.1 605.4L193.4 608.7L195.5 612.2L197.5 615.9L199.4 619.7L201.0 623.7L202.5 627.9L203.7 632.1L204.7 636.4L205.6 640.7L206.1 645.0L206.5 649.3L206.6 653.5L206.5 657.6L206.1 661.5L205.6 665.3L204.7 668.9L203.7 672.2L202.5 675.3L201.0 678.2L199.4 680.7L197.5 683.0L195.5 684.9L193.4 686.4L191.1 687.6L188.7 688.5L186.2 688.9L183.6 689.0L181.0 688.7L178.3 688.1L175.6 687.1L172.9 685.7L170.2 683.9L167.6 681.9L165.0 679.5L162.5 676.7L160.1 673.8L157.8 670.5L155.7 667.0L153.7 663.3L151.8 659.5L150.2 655.5L148.7 651.3L147.5 647.1L146.5 642.8L145.6 638.5L145.1 634.2L144.7 629.9L144.6 625.7" stroke="#6e6418" stroke-width="0.8" stroke-opacity="0.5" fill="none"/>
<path d="M215.6 628.8L215.4 624.7L215.0 620.8L214.2 616.9L213.2 613.3L211.8 609.8L210.2 606.6L208.4 603.6L206.2 600.9L203.9 598.4L201.3 596.3L198.5 594.6L195.6 593.1L192.5 592.0L189.3 591.3L185.9 591.0L182.5 591.0L179.1 591.4L175.6 592.1L172.1 593.3L168.7 594.7L165.3 596.5L161.9 598.7L158.7 601.1L155.6 603.9L152.7 606.9L149.9 610.2L147.3 613.7L145.0 617.3L142.8 621.2L141.0 625.2L139.4 629.3L138.0 633.5L137.0 637.7L136.2 642.0L135.8 646.2L135.6 650.4L135.8 654.5L136.2 658.4L137.0 662.3L138.0 665.9L139.4 669.4L141.0 672.6L142.8 675.6L145.0 678.3L147.3 680.8L149.9 682.9L152.7 684.6L155.6 686.1L158.7 687.2L161.9 687.9L165.3 688.2L168.7 688.2L172.1 687.8L175.6 687.1L179.1 685.9L182.5 684.5L185.9 682.7L189.3 680.5L192.5 678.1L195.6 675.3L198.5 672.3L201.3 669.0L203.9 665.5L206.2 661.9L208.4 658.0L210.2 654.0L211.8 649.9L213.2 645.7L214.2 641.5L215.0 637.2L215.4 633.0L215.6 628.8" stroke="#6e6418" stroke-width="0.8" stroke-opacity="0.5" fill="none"/>
<path d="M175.6 690.2L175.6 589.0" stroke="#6e6418" stroke-width="2.0" fill="none" stroke-opacity="0.7"/>
<path d="M221.8 660.3L129.4 618.9" stroke="#6e6418" stroke-width="2.2" fill="none" stroke-opacity="0.6"/>
<path d="M126.7 652.7L224.5 626.5" stroke="#6e6418" stroke-width="2.0" fill="none" stroke-opacity="0.55"/>
<path d="M175.6 639.6L237.5 622.1" stroke="#0a7a1c" stroke-width="2.6" fill="none"/><path d="M252.9 617.7L235.2 630.5L237.5 622.1L231.1 616.1Z" fill="#0a7a1c"/>
<path d="M175.6 639.6L176.0 604.1" stroke="#000" stroke-width="1.6" fill="none"/><path d="M176.2 590.8L181.7 607.9L176.0 604.1L170.2 607.7Z" fill="#000"/>
<path d="M175.6 639.6L153.6 629.7" stroke="#000" stroke-width="2.6" fill="none"/><path d="M142.2 624.6L158.9 626.4L153.6 629.7L154.6 635.9Z" fill="#000"/>
<path d="M175.6 639.6L199.9 632.7" stroke="#000" stroke-width="3.2" fill="none"/><path d="M212.4 629.2L198.0 639.8L199.9 632.7L194.6 627.7Z" fill="#000"/>
<path d="M66.8 667.6L119.5 654.6" stroke="#ff0000" stroke-width="2.8" fill="none"/><path d="M133.9 651.0L117.0 661.9L119.5 654.6L113.9 649.3Z" fill="#ff0000"/>
<text transform="translate(139.21,591.70) scale(1.050,1) skewX(-8)" font-family="'Liberation Serif', serif" font-style="italic" font-weight="normal" font-size="46.62" fill="#000" stroke="#000" stroke-width="0.9">l</text>
<text transform="translate(155.49,599.03) scale(1.071,1)" font-family="'Liberation Serif', serif" font-style="italic" font-weight="normal" font-size="36.12" fill="#000" stroke="#000" stroke-width="0.4">y</text>
<text transform="translate(111.59,637.30) scale(1.050,1) skewX(-8)" font-family="'Liberation Serif', serif" font-style="italic" font-weight="normal" font-size="46.91" fill="#000" stroke="#000" stroke-width="0.9">l</text>
<text transform="translate(125.94,645.10) scale(1.187,1)" font-family="'Liberation Serif', serif" font-style="italic" font-weight="normal" font-size="36.92" fill="#000" stroke="#000" stroke-width="0.4">x</text>
<text transform="translate(191.89,616.80) scale(1.050,1) skewX(-8)" font-family="'Liberation Serif', serif" font-style="italic" font-weight="normal" font-size="46.91" fill="#000" stroke="#000" stroke-width="0.9">l</text>
<text transform="translate(206.03,624.60) scale(1.264,1)" font-family="'Liberation Serif', serif" font-style="italic" font-weight="normal" font-size="33.70" fill="#000" stroke="#000" stroke-width="0.4">z</text>
<text transform="translate(217.63,677.40) scale(1.002,1)" font-family="'Liberation Serif', serif" font-style="italic" font-weight="normal" font-size="53.38" fill="#00821e" stroke="#00821e" stroke-width="0.5">M</text>
<text transform="translate(261.72,686.03) scale(1.139,1)" font-family="'Liberation Serif', serif" font-style="normal" font-weight="normal" font-size="37.94" fill="#00821e">z,array</text>
<text transform="translate(65.26,708.10) scale(0.993,1)" font-family="'Liberation Serif', serif" font-style="normal" font-weight="bold" font-size="56.64" fill="#ff0000">H</text>
<text transform="translate(111.16,719.52) scale(0.964,1)" font-family="'Liberation Serif', serif" font-style="normal" font-weight="normal" font-size="38.21" fill="#ff0000">inc</text>
</svg>
</body></html>
